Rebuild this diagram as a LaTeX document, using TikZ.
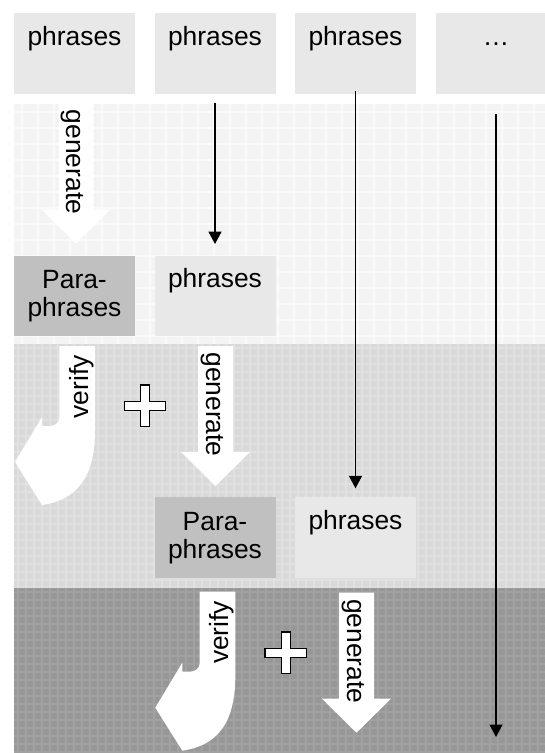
\documentclass[tikz,border=0pt]{standalone}
\usepackage{fontspec}
\setmainfont{Liberation Sans}
\usetikzlibrary{arrows.meta}

\definecolor{boxgray}{HTML}{E8E8E8}
\definecolor{paragray}{HTML}{C0C0C0}
\definecolor{bandA}{HTML}{F3F3F3}
\definecolor{bandAline}{HTML}{FAFAFA}
\definecolor{bandB}{HTML}{D9D9D9}
\definecolor{bandBline}{HTML}{E1E1E1}
\definecolor{bandC}{HTML}{979797}
\definecolor{bandCline}{HTML}{A1A1A1}

\tikzset{
  phrasebox/.style={fill=boxgray, draw=none, minimum width=121pt, minimum height=80.5pt,
    inner sep=0pt, outer sep=0pt, anchor=north west},
  parabox/.style={phrasebox, fill=paragray},
  lbl/.style={font=\fontsize{26.4}{28}\selectfont, inner sep=0pt, anchor=base},
  vlbl/.style={font=\fontsize{26.4}{28}\selectfont, inner sep=0pt, anchor=center},
  flow/.style={line width=1.6pt, -{Triangle[length=12.5pt,width=13pt]}},
  gridA/.style={draw=bandAline, line width=1.5pt},
  gridB/.style={draw=bandBline, line width=1.5pt},
  gridC/.style={draw=bandCline, line width=1.5pt},
  crossline/.style={fill=white, draw=black, line width=1.2pt, line join=miter},
  % straight white block arrow with a vertical caption
  genarrow/.pic={
    \fill[white] (-17.5,0) -- (17.5,0) -- (17.5,106) -- (34.5,106) -- (0,140)
      -- (-34.5,106) -- (-17.5,106) -- cycle;
    \node[vlbl, rotate=-90] (-t) at (-3.3,58.5) {generate};
  },
  % white block arrow bending down and to the left
  verarrow/.pic={
    \fill[white] (-17.8,0) -- (17.8,0) -- (17.8,84)
      .. controls (17.8,134) and (-2.2,154) .. (-35.2,159)
      -- (-62.2,116) -- (-35.2,71) -- (-35.2,80) -- (-27.2,80)
      .. controls (-22.2,80) and (-17.8,76) .. (-17.8,72) -- cycle;
    \node[vlbl, rotate=90] (-t) at (4,40.7) {verify};
  },
  % outlined plus sign
  crossmark/.pic={
    \draw[crossline] (-4.5,-20.75) -- (4.5,-20.75) -- (4.5,-4.5) -- (20.75,-4.5)
      -- (20.75,4.5) -- (4.5,4.5) -- (4.5,20.75) -- (-4.5,20.75) -- (-4.5,4.5)
      -- (-20.75,4.5) -- (-20.75,-4.5) -- (-4.5,-4.5) -- cycle;
  }
}

\begin{document}
\begin{tikzpicture}[x=1pt,y=-1pt]
\useasboundingbox (0,0) rectangle (545,753);
\clip (0,0) rectangle (545,753);

% --- background bands ---
\fill[bandA] (14,103.5) rectangle (545,344);
\foreach \gx in {22,38,...,545} \draw[gridA] (\gx,103.5) -- (\gx,344);
\foreach \gy in {112,128,...,344} \draw[gridA] (14,\gy) -- (545,\gy);

\fill[bandB] (14,344) rectangle (545,588.3);
\foreach \gx in {18,26,...,545} \draw[gridB] (\gx,344) -- (\gx,588.3);
\foreach \gy in {348,356,...,588} \draw[gridB] (14,\gy) -- (545,\gy);

\fill[bandC] (14,588.3) rectangle (545,753);
\foreach \gx in {18,26,...,545} \draw[gridC] (\gx,588.3) -- (\gx,753);
\foreach \gy in {592,600,...,753} \draw[gridC] (14,\gy) -- (545,\gy);

% --- boxes ---
\node[phrasebox] (top1) at (14,13.3) {};
\node[phrasebox] (top2) at (154.5,13.3) {};
\node[phrasebox] (top3) at (295,13.3) {};
\node[phrasebox] (top4) at (435.5,13.3) {};

\node[parabox]   (mid1) at (14,255.5) {};
\node[phrasebox] (mid2) at (154.5,255.5) {};

\node[parabox]   (low2) at (154.5,497.3) {};
\node[phrasebox] (low3) at (295,497.3) {};

% --- box texts ---
\node[lbl] (top1-t) at ([yshift=-32.5pt]top1.north) {phrases};
\node[lbl] (top2-t) at ([yshift=-32.5pt]top2.north) {phrases};
\node[lbl] (top3-t) at ([yshift=-32.5pt]top3.north) {phrases};
\node[lbl] (top4-t) at ([yshift=-32.5pt]top4.north) {…};

\node[lbl] (mid1-t) at ([yshift=-33pt]mid1.north) {\begin{tabular}[t]{@{}c@{}}Para-\\phrases\end{tabular}};
\node[lbl] (mid2-t) at ([yshift=-32pt]mid2.north) {phrases};

\node[lbl] (low2-t) at ([yshift=-33pt]low2.north) {\begin{tabular}[t]{@{}c@{}}Para-\\phrases\end{tabular}};
\node[lbl] (low3-t) at ([yshift=-32pt]low3.north) {phrases};

% --- white block arrows and plus signs ---
\pic (gen1) at (76,103.5) {genarrow};
\pic (ver1) at (77.2,346) {verarrow};
\pic (plus1) at (145,405.8) {crossmark};
\pic (gen2) at (215.5,346) {genarrow};

\pic (ver2) at (217.5,591.7) {verarrow};
\pic (plus2) at (285.7,652.8) {crossmark};
\pic (gen3) at (356.5,592.7) {genarrow};

% --- thin flow arrows ---
\coordinate (end4) at (496,737);
\draw[flow, shorten <=9.4pt, shorten >=11.5pt] (top2.south) -- (mid2.north);
\draw[flow, shorten <=-2.6pt, shorten >=9pt] (top3.south) -- (low3.north);
\draw[flow, shorten <=20pt] (top4.south) -- (end4);
\end{tikzpicture}
\end{document}
